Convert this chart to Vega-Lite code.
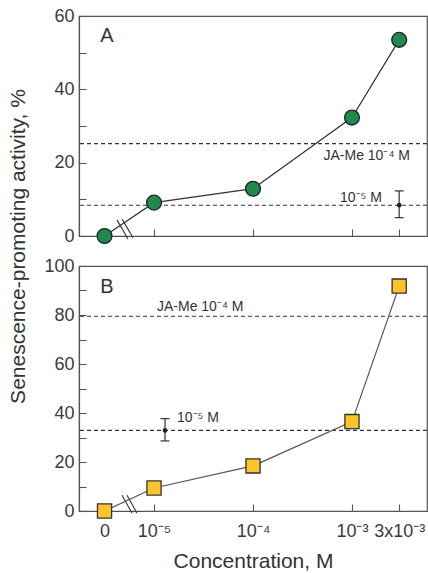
{
  "$schema": "https://vega.github.io/schema/vega-lite/v6.json",
  "padding": {"left": 6, "top": 6, "right": 1, "bottom": 4},
  "bounds": "flush",
  "spacing": 30,
  "config": {
    "font": "Liberation Sans",
    "view": {"stroke": "#555", "strokeWidth": 1.2},
    "axis": {
      "domainColor": "#555", "domainWidth": 1.2, "tickColor": "#555", "tickWidth": 1.1,
      "labelColor": "#3a3a3a", "titleColor": "#333", "labelFontSize": 18, "titleFontSize": 21,
      "titleFontWeight": "normal", "grid": false, "labelFont": "Liberation Sans", "titleFont": "Liberation Sans"
    }
  },
  "datasets": {
    "ptsA": [
      {"conc": "0", "lx": -5.5, "v": 0},
      {"conc": "1e-5", "lx": -5, "v": 9.1},
      {"conc": "1e-4", "lx": -4, "v": 12.9},
      {"conc": "1e-3", "lx": -3, "v": 32.3},
      {"conc": "3e-3", "lx": -2.523, "v": 53.5}
    ],
    "ptsB": [
      {"conc": "0", "lx": -5.5, "v": 0},
      {"conc": "1e-5", "lx": -5, "v": 9.4},
      {"conc": "1e-4", "lx": -4, "v": 18.4},
      {"conc": "1e-3", "lx": -3, "v": 36.5},
      {"conc": "3e-3", "lx": -2.523, "v": 91.8}
    ],
    "refA": [{"v": 25.2}, {"v": 8.4}],
    "refB": [{"v": 79.5}, {"v": 32.9}],
    "labA": [
      {"lx": -2.414, "v": 21.8, "label": "JA-Me 10⁻⁴ M"},
      {"lx": -2.697, "v": 10.4, "label": "10⁻⁵ M"}
    ],
    "labB": [
      {"lx": -4.97, "v": 83.1, "label": "JA-Me 10⁻⁴ M"},
      {"lx": -4.768, "v": 37.8, "label": "10⁻⁵ M"}
    ],
    "panA": [{"lx": -5.475, "v": 54.5, "label": "A"}],
    "panB": [{"lx": -5.475, "v": 91.3, "label": "B"}],
    "errA": [{"lx": -2.523, "v": 5.0, "v2": 12.3}],
    "capA": [{"lx": -2.523, "v": 5.0}, {"lx": -2.523, "v": 12.3}],
    "midA": [{"lx": -2.523, "v": 8.4}],
    "errB": [{"lx": -4.889, "v": 28.6, "v2": 37.7}],
    "capB": [{"lx": -4.889, "v": 28.6}, {"lx": -4.889, "v": 37.7}],
    "midB": [{"lx": -4.889, "v": 32.9}],
    "brkA": [
      {"lx": -5.374, "lx2": -5.263, "v": 4.4, "v2": -0.8},
      {"lx": -5.323, "lx2": -5.212, "v": 4.6, "v2": -0.5}
    ],
    "brkB": [
      {"lx": -5.323, "lx2": -5.222, "v": 6.4, "v2": -0.9},
      {"lx": -5.273, "lx2": -5.172, "v": 6.4, "v2": -0.9}
    ]
  },
  "vconcat": [
    {
      "width": 348,
      "height": 220,
      "layer": [
        {
          "data": {"name": "refA"},
          "mark": {"type": "rule", "strokeDash": [4, 3], "color": "#333", "strokeWidth": 1.1},
          "encoding": {
            "y": {"field": "v", "type": "quantitative", "scale": {"domain": [0, 60], "nice": false},
              "axis": {"values": [0, 10, 20, 30, 40, 50, 60], "labelExpr": "datum.value % 20 == 0 ? datum.label : ''", "tickSize": -7, "labelPadding": 12, "title": null}}
          }
        },
        {
          "data": {"name": "labA"},
          "mark": {"type": "text", "fontSize": 14, "align": "right", "baseline": "middle", "color": "#333"},
          "encoding": {
            "x": {"field": "lx", "type": "quantitative", "scale": {"domain": [-5.758, -2.242], "nice": false, "zero": false},
              "axis": {"values": [-5.5, -5, -4, -3, -2.523], "labels": false, "tickSize": -7, "title": null}},
            "y": {"field": "v", "type": "quantitative", "scale": {"domain": [0, 60], "nice": false},
              "axis": {"values": [0, 10, 20, 30, 40, 50, 60], "labelExpr": "datum.value % 20 == 0 ? datum.label : ''", "tickSize": -7, "labelPadding": 12, "title": null}},
            "text": {"field": "label"}
          }
        },
        {
          "data": {"name": "panA"},
          "mark": {"type": "text", "fontSize": 20, "align": "center", "baseline": "middle", "color": "#333"},
          "encoding": {
            "x": {"field": "lx", "type": "quantitative", "scale": {"domain": [-5.758, -2.242], "nice": false, "zero": false},
              "axis": {"values": [-5.5, -5, -4, -3, -2.523], "labels": false, "tickSize": -7, "title": null}},
            "y": {"field": "v", "type": "quantitative", "scale": {"domain": [0, 60], "nice": false},
              "axis": {"values": [0, 10, 20, 30, 40, 50, 60], "labelExpr": "datum.value % 20 == 0 ? datum.label : ''", "tickSize": -7, "labelPadding": 12, "title": null}},
            "text": {"field": "label"}
          }
        },
        {
          "data": {"name": "brkA"},
          "mark": {"type": "rule", "color": "#333", "strokeWidth": 1.1},
          "encoding": {
            "x": {"field": "lx", "type": "quantitative", "scale": {"domain": [-5.758, -2.242], "nice": false, "zero": false},
              "axis": {"values": [-5.5, -5, -4, -3, -2.523], "labels": false, "tickSize": -7, "title": null}},
            "x2": {"field": "lx2"},
            "y": {"field": "v", "type": "quantitative", "scale": {"domain": [0, 60], "nice": false},
              "axis": {"values": [0, 10, 20, 30, 40, 50, 60], "labelExpr": "datum.value % 20 == 0 ? datum.label : ''", "tickSize": -7, "labelPadding": 12, "title": null}},
            "y2": {"field": "v2"}
          }
        },
        {
          "data": {"name": "errA"},
          "mark": {"type": "rule", "color": "#333", "strokeWidth": 1.2},
          "encoding": {
            "x": {"field": "lx", "type": "quantitative", "scale": {"domain": [-5.758, -2.242], "nice": false, "zero": false},
              "axis": {"values": [-5.5, -5, -4, -3, -2.523], "labels": false, "tickSize": -7, "title": null}},
            "y": {"field": "v", "type": "quantitative", "scale": {"domain": [0, 60], "nice": false},
              "axis": {"values": [0, 10, 20, 30, 40, 50, 60], "labelExpr": "datum.value % 20 == 0 ? datum.label : ''", "tickSize": -7, "labelPadding": 12, "title": null}},
            "y2": {"field": "v2"}
          }
        },
        {
          "data": {"name": "capA"},
          "mark": {"type": "tick", "orient": "horizontal", "color": "#333", "size": 9, "thickness": 1.2, "opacity": 1},
          "encoding": {
            "x": {"field": "lx", "type": "quantitative", "scale": {"domain": [-5.758, -2.242], "nice": false, "zero": false},
              "axis": {"values": [-5.5, -5, -4, -3, -2.523], "labels": false, "tickSize": -7, "title": null}},
            "y": {"field": "v", "type": "quantitative", "scale": {"domain": [0, 60], "nice": false},
              "axis": {"values": [0, 10, 20, 30, 40, 50, 60], "labelExpr": "datum.value % 20 == 0 ? datum.label : ''", "tickSize": -7, "labelPadding": 12, "title": null}}
          }
        },
        {
          "data": {"name": "midA"},
          "mark": {"type": "point", "filled": true, "color": "#222", "size": 22, "opacity": 1},
          "encoding": {
            "x": {"field": "lx", "type": "quantitative", "scale": {"domain": [-5.758, -2.242], "nice": false, "zero": false},
              "axis": {"values": [-5.5, -5, -4, -3, -2.523], "labels": false, "tickSize": -7, "title": null}},
            "y": {"field": "v", "type": "quantitative", "scale": {"domain": [0, 60], "nice": false},
              "axis": {"values": [0, 10, 20, 30, 40, 50, 60], "labelExpr": "datum.value % 20 == 0 ? datum.label : ''", "tickSize": -7, "labelPadding": 12, "title": null}}
          }
        },
        {
          "data": {"name": "ptsA"},
          "mark": {"type": "line", "color": "#333", "strokeWidth": 1.2},
          "encoding": {
            "x": {"field": "lx", "type": "quantitative", "scale": {"domain": [-5.758, -2.242], "nice": false, "zero": false},
              "axis": {"values": [-5.5, -5, -4, -3, -2.523], "labels": false, "tickSize": -7, "title": null}},
            "y": {"field": "v", "type": "quantitative", "scale": {"domain": [0, 60], "nice": false},
              "axis": {"values": [0, 10, 20, 30, 40, 50, 60], "labelExpr": "datum.value % 20 == 0 ? datum.label : ''", "tickSize": -7, "labelPadding": 12, "title": null}}
          }
        },
        {
          "data": {"name": "ptsA"},
          "mark": {"type": "point", "shape": "circle", "filled": true, "fill": "#1e8b4c", "stroke": "#222", "strokeWidth": 1.3, "size": 220, "opacity": 1},
          "encoding": {
            "x": {"field": "lx", "type": "quantitative", "scale": {"domain": [-5.758, -2.242], "nice": false, "zero": false},
              "axis": {"values": [-5.5, -5, -4, -3, -2.523], "labels": false, "tickSize": -7, "title": null}},
            "y": {"field": "v", "type": "quantitative", "scale": {"domain": [0, 60], "nice": false},
              "axis": {"values": [0, 10, 20, 30, 40, 50, 60], "labelExpr": "datum.value % 20 == 0 ? datum.label : ''", "tickSize": -7, "labelPadding": 12, "title": null}}
          }
        }
      ]
    },
    {
      "width": 348,
      "height": 245,
      "layer": [
        {
          "data": {"name": "refB"},
          "mark": {"type": "rule", "strokeDash": [4, 3], "color": "#333", "strokeWidth": 1.1},
          "encoding": {
            "y": {"field": "v", "type": "quantitative", "scale": {"domain": [0, 100], "nice": false},
              "axis": {"values": [0, 10, 20, 30, 40, 50, 60, 70, 80, 90, 100], "labelExpr": "datum.value % 20 == 0 ? datum.label : ''", "tickSize": -7, "labelPadding": 12,
                "title": "Senescence-promoting activity, %", "titleX": -61, "titleY": -20, "titleAngle": 270, "titleAlign": "center", "titleBaseline": "middle"}}
          }
        },
        {
          "data": {"name": "labB"},
          "mark": {"type": "text", "fontSize": 14, "align": "left", "baseline": "middle", "color": "#333"},
          "encoding": {
            "x": {"field": "lx", "type": "quantitative", "scale": {"domain": [-5.758, -2.242], "nice": false, "zero": false},
              "axis": {"values": [-5.5, -5, -4, -3, -2.523], "labelExpr": "datum.value < -5.2 ? '0' : datum.value < -4.5 ? '10⁻⁵' : datum.value < -3.5 ? '10⁻⁴' : datum.value < -2.7 ? '10⁻³' : '3x10⁻³'", "tickSize": -7, "labelPadding": 18, "title": "Concentration, M", "titlePadding": 10}},
            "y": {"field": "v", "type": "quantitative", "scale": {"domain": [0, 100], "nice": false},
              "axis": {"values": [0, 10, 20, 30, 40, 50, 60, 70, 80, 90, 100], "labelExpr": "datum.value % 20 == 0 ? datum.label : ''", "tickSize": -7, "labelPadding": 12,
                "title": "Senescence-promoting activity, %", "titleX": -61, "titleY": -20, "titleAngle": 270, "titleAlign": "center", "titleBaseline": "middle"}},
            "text": {"field": "label"}
          }
        },
        {
          "data": {"name": "panB"},
          "mark": {"type": "text", "fontSize": 20, "align": "center", "baseline": "middle", "color": "#333"},
          "encoding": {
            "x": {"field": "lx", "type": "quantitative", "scale": {"domain": [-5.758, -2.242], "nice": false, "zero": false},
              "axis": {"values": [-5.5, -5, -4, -3, -2.523], "labelExpr": "datum.value < -5.2 ? '0' : datum.value < -4.5 ? '10⁻⁵' : datum.value < -3.5 ? '10⁻⁴' : datum.value < -2.7 ? '10⁻³' : '3x10⁻³'", "tickSize": -7, "labelPadding": 18, "title": "Concentration, M", "titlePadding": 10}},
            "y": {"field": "v", "type": "quantitative", "scale": {"domain": [0, 100], "nice": false},
              "axis": {"values": [0, 10, 20, 30, 40, 50, 60, 70, 80, 90, 100], "labelExpr": "datum.value % 20 == 0 ? datum.label : ''", "tickSize": -7, "labelPadding": 12,
                "title": "Senescence-promoting activity, %", "titleX": -61, "titleY": -20, "titleAngle": 270, "titleAlign": "center", "titleBaseline": "middle"}},
            "text": {"field": "label"}
          }
        },
        {
          "data": {"name": "brkB"},
          "mark": {"type": "rule", "color": "#333", "strokeWidth": 1.1},
          "encoding": {
            "x": {"field": "lx", "type": "quantitative", "scale": {"domain": [-5.758, -2.242], "nice": false, "zero": false},
              "axis": {"values": [-5.5, -5, -4, -3, -2.523], "labelExpr": "datum.value < -5.2 ? '0' : datum.value < -4.5 ? '10⁻⁵' : datum.value < -3.5 ? '10⁻⁴' : datum.value < -2.7 ? '10⁻³' : '3x10⁻³'", "tickSize": -7, "labelPadding": 18, "title": "Concentration, M", "titlePadding": 10}},
            "x2": {"field": "lx2"},
            "y": {"field": "v", "type": "quantitative", "scale": {"domain": [0, 100], "nice": false},
              "axis": {"values": [0, 10, 20, 30, 40, 50, 60, 70, 80, 90, 100], "labelExpr": "datum.value % 20 == 0 ? datum.label : ''", "tickSize": -7, "labelPadding": 12,
                "title": "Senescence-promoting activity, %", "titleX": -61, "titleY": -20, "titleAngle": 270, "titleAlign": "center", "titleBaseline": "middle"}},
            "y2": {"field": "v2"}
          }
        },
        {
          "data": {"name": "errB"},
          "mark": {"type": "rule", "color": "#333", "strokeWidth": 1.2},
          "encoding": {
            "x": {"field": "lx", "type": "quantitative", "scale": {"domain": [-5.758, -2.242], "nice": false, "zero": false},
              "axis": {"values": [-5.5, -5, -4, -3, -2.523], "labelExpr": "datum.value < -5.2 ? '0' : datum.value < -4.5 ? '10⁻⁵' : datum.value < -3.5 ? '10⁻⁴' : datum.value < -2.7 ? '10⁻³' : '3x10⁻³'", "tickSize": -7, "labelPadding": 18, "title": "Concentration, M", "titlePadding": 10}},
            "y": {"field": "v", "type": "quantitative", "scale": {"domain": [0, 100], "nice": false},
              "axis": {"values": [0, 10, 20, 30, 40, 50, 60, 70, 80, 90, 100], "labelExpr": "datum.value % 20 == 0 ? datum.label : ''", "tickSize": -7, "labelPadding": 12,
                "title": "Senescence-promoting activity, %", "titleX": -61, "titleY": -20, "titleAngle": 270, "titleAlign": "center", "titleBaseline": "middle"}},
            "y2": {"field": "v2"}
          }
        },
        {
          "data": {"name": "capB"},
          "mark": {"type": "tick", "orient": "horizontal", "color": "#333", "size": 9, "thickness": 1.2, "opacity": 1},
          "encoding": {
            "x": {"field": "lx", "type": "quantitative", "scale": {"domain": [-5.758, -2.242], "nice": false, "zero": false},
              "axis": {"values": [-5.5, -5, -4, -3, -2.523], "labelExpr": "datum.value < -5.2 ? '0' : datum.value < -4.5 ? '10⁻⁵' : datum.value < -3.5 ? '10⁻⁴' : datum.value < -2.7 ? '10⁻³' : '3x10⁻³'", "tickSize": -7, "labelPadding": 18, "title": "Concentration, M", "titlePadding": 10}},
            "y": {"field": "v", "type": "quantitative", "scale": {"domain": [0, 100], "nice": false},
              "axis": {"values": [0, 10, 20, 30, 40, 50, 60, 70, 80, 90, 100], "labelExpr": "datum.value % 20 == 0 ? datum.label : ''", "tickSize": -7, "labelPadding": 12,
                "title": "Senescence-promoting activity, %", "titleX": -61, "titleY": -20, "titleAngle": 270, "titleAlign": "center", "titleBaseline": "middle"}}
          }
        },
        {
          "data": {"name": "midB"},
          "mark": {"type": "point", "filled": true, "color": "#222", "size": 22, "opacity": 1},
          "encoding": {
            "x": {"field": "lx", "type": "quantitative", "scale": {"domain": [-5.758, -2.242], "nice": false, "zero": false},
              "axis": {"values": [-5.5, -5, -4, -3, -2.523], "labelExpr": "datum.value < -5.2 ? '0' : datum.value < -4.5 ? '10⁻⁵' : datum.value < -3.5 ? '10⁻⁴' : datum.value < -2.7 ? '10⁻³' : '3x10⁻³'", "tickSize": -7, "labelPadding": 18, "title": "Concentration, M", "titlePadding": 10}},
            "y": {"field": "v", "type": "quantitative", "scale": {"domain": [0, 100], "nice": false},
              "axis": {"values": [0, 10, 20, 30, 40, 50, 60, 70, 80, 90, 100], "labelExpr": "datum.value % 20 == 0 ? datum.label : ''", "tickSize": -7, "labelPadding": 12,
                "title": "Senescence-promoting activity, %", "titleX": -61, "titleY": -20, "titleAngle": 270, "titleAlign": "center", "titleBaseline": "middle"}}
          }
        },
        {
          "data": {"name": "ptsB"},
          "mark": {"type": "line", "color": "#555", "strokeWidth": 1.2},
          "encoding": {
            "x": {"field": "lx", "type": "quantitative", "scale": {"domain": [-5.758, -2.242], "nice": false, "zero": false},
              "axis": {"values": [-5.5, -5, -4, -3, -2.523], "labelExpr": "datum.value < -5.2 ? '0' : datum.value < -4.5 ? '10⁻⁵' : datum.value < -3.5 ? '10⁻⁴' : datum.value < -2.7 ? '10⁻³' : '3x10⁻³'", "tickSize": -7, "labelPadding": 18, "title": "Concentration, M", "titlePadding": 10}},
            "y": {"field": "v", "type": "quantitative", "scale": {"domain": [0, 100], "nice": false},
              "axis": {"values": [0, 10, 20, 30, 40, 50, 60, 70, 80, 90, 100], "labelExpr": "datum.value % 20 == 0 ? datum.label : ''", "tickSize": -7, "labelPadding": 12,
                "title": "Senescence-promoting activity, %", "titleX": -61, "titleY": -20, "titleAngle": 270, "titleAlign": "center", "titleBaseline": "middle"}}
          }
        },
        {
          "data": {"name": "ptsB"},
          "mark": {"type": "point", "shape": "square", "filled": true, "fill": "#fbc42a", "stroke": "#333", "strokeWidth": 1.3, "size": 200, "opacity": 1},
          "encoding": {
            "x": {"field": "lx", "type": "quantitative", "scale": {"domain": [-5.758, -2.242], "nice": false, "zero": false},
              "axis": {"values": [-5.5, -5, -4, -3, -2.523], "labelExpr": "datum.value < -5.2 ? '0' : datum.value < -4.5 ? '10⁻⁵' : datum.value < -3.5 ? '10⁻⁴' : datum.value < -2.7 ? '10⁻³' : '3x10⁻³'", "tickSize": -7, "labelPadding": 18, "title": "Concentration, M", "titlePadding": 10}},
            "y": {"field": "v", "type": "quantitative", "scale": {"domain": [0, 100], "nice": false},
              "axis": {"values": [0, 10, 20, 30, 40, 50, 60, 70, 80, 90, 100], "labelExpr": "datum.value % 20 == 0 ? datum.label : ''", "tickSize": -7, "labelPadding": 12,
                "title": "Senescence-promoting activity, %", "titleX": -61, "titleY": -20, "titleAngle": 270, "titleAlign": "center", "titleBaseline": "middle"}}
          }
        }
      ]
    }
  ]
}
